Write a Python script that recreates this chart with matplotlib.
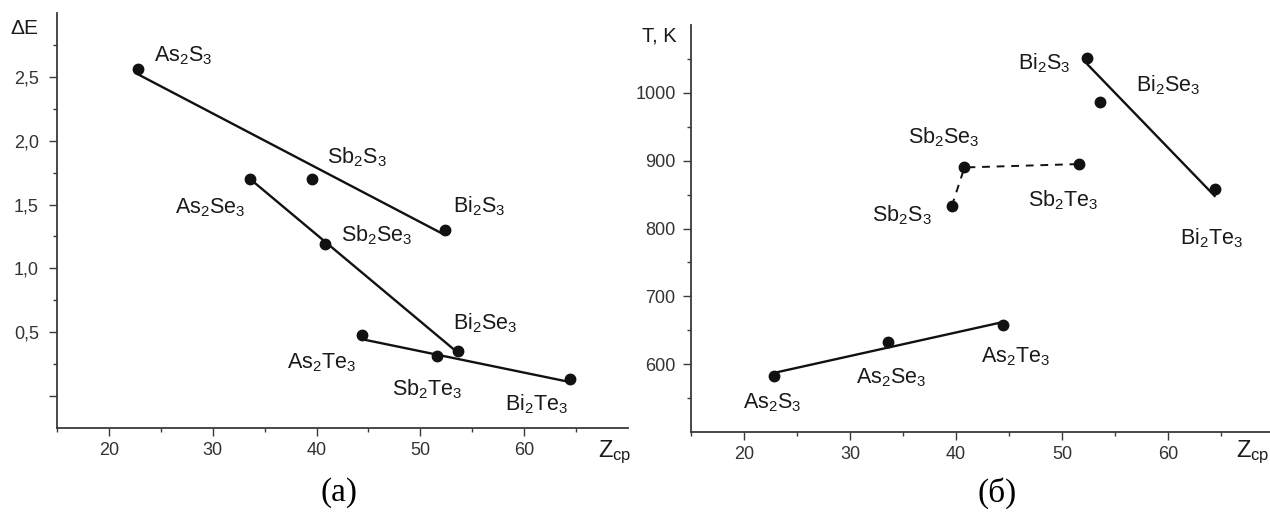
import numpy as np
import matplotlib
matplotlib.use("Agg")
import matplotlib.pyplot as plt

plt.rcParams['font.family'] = ['Liberation Sans', 'DejaVu Sans']
plt.rcParams['mathtext.default'] = 'regular'

# compounds and values
compounds = ['As2S3', 'Sb2S3', 'Bi2S3', 'As2Se3', 'Sb2Se3', 'Bi2Se3', 'As2Te3', 'Sb2Te3', 'Bi2Te3']
z_cp = [22.8, 39.6, 52.4, 33.6, 40.8, 53.6, 44.4, 51.6, 64.4]
delta_e = [2.56, 1.70, 1.30, 1.70, 1.19, 0.35, 0.48, 0.31, 0.13]
t_melt = [583, 833, 1051, 633, 890, 987, 658, 895, 858]

# trend lines (end points)
line_s_z, line_s_e = [22.8, 52.4], [2.52, 1.26]
line_se_z, line_se_e = [33.6, 53.6], [1.70, 0.34]
line_te_z, line_te_e = [44.4, 64.4], [0.445, 0.11]
line_as_z, line_as_t = [22.8, 44.4], [587, 662]
line_bi_z, line_bi_t = [52.4, 64.4], [1042, 848]
line_sb_z, line_sb_t = [39.6, 40.8, 51.6], [833, 890, 895]

# label anchors (left, baseline), data coords
lab_a_x = [24.3, 41.0, 53.1, 26.4, 42.4, 53.1, 37.2, 47.3, 58.2]
lab_a_y = [2.62, 1.82, 1.44, 1.43, 1.21, 0.52, 0.215, 0.008, -0.11]
lab_b_x = [19.9, 32.1, 45.85, 30.6, 35.5, 57.0, 42.4, 46.8, 61.1]
lab_b_y = [535, 810, 1034, 572, 926, 1002, 602, 832, 776]

ytick_a = [0, 0.5, 1.0, 1.5, 2.0, 2.5]
ytick_a_lab = ['', '0,5', '1,0', '1,5', '2,0', '2,5']
ytick_b = [600, 700, 800, 900, 1000]
xtick = [20, 30, 40, 50, 60]


def chem(name):
    out = ''
    for ch in name:
        out += '_' + ch if ch.isdigit() else ch
    return '$' + out + '$'


def style(ax):
    for s in ['top', 'right']:
        ax.spines[s].set_visible(False)
    for s in ['left', 'bottom']:
        ax.spines[s].set_color('#3a3a3a')
        ax.spines[s].set_linewidth(1.3)
    ax.set_xlim(15, 70)
    ax.set_xticks(xtick)
    ax.set_xticks(np.arange(15, 70, 10), minor=True)
    ax.tick_params(which='major', length=6, width=1, color='#3a3a3a', labelsize=13, labelcolor='#333333')
    ax.tick_params(which='minor', length=3, width=1, color='#3a3a3a')
    ax.tick_params(axis='x', pad=4)


fig = plt.figure(figsize=(12.7, 5.13), dpi=100)

ax1 = fig.add_axes([57 / 1270, 85 / 513, 571 / 1270, 415 / 513])
style(ax1)
ax1.set_ylim(-0.25, 3.0)
ax1.set_yticks(ytick_a)
ax1.set_yticklabels(ytick_a_lab)
ax1.set_yticks(np.arange(0.25, 3.0, 0.5), minor=True)
ax1.tick_params(axis='y', pad=7)
for lz, le in [(line_s_z, line_s_e), (line_se_z, line_se_e), (line_te_z, line_te_e)]:
    ax1.plot(lz, le, color='#111111', lw=1.7, solid_capstyle='butt')
ax1.plot(z_cp, delta_e, 'o', color='#111111', ms=7.5)
for i, name in enumerate(compounds):
    ax1.text(lab_a_x[i], lab_a_y[i], chem(name), fontsize=15.5, color='#1a1a1a', va='baseline')

ax2 = fig.add_axes([691 / 1270, 81 / 513, 583 / 1270, 407 / 513])
style(ax2)
ax2.set_ylim(500, 1100)
ax2.set_yticks(ytick_b)
ax2.set_yticks(np.arange(550, 1100, 100), minor=True)
ax2.tick_params(axis='y', pad=5)
ax2.plot(line_as_z, line_as_t, color='#111111', lw=1.7)
ax2.plot(line_bi_z, line_bi_t, color='#111111', lw=1.7)
ax2.plot(line_sb_z, line_sb_t, color='#111111', lw=1.4, linestyle=(0, (4, 3.5)))
ax2.plot(z_cp, t_melt, 'o', color='#111111', ms=7.5)
for i, name in enumerate(compounds):
    ax2.text(lab_b_x[i], lab_b_y[i], chem(name), fontsize=15.5, color='#1a1a1a', va='baseline')

# axis titles
fig.text(10 / 1270, 1 - 28 / 513, r'$\Delta$E', fontsize=15, color='#1a1a1a', va='center')
fig.text(677 / 1270, 1 - 36 / 513, 'T, K', fontsize=14.5, color='#1a1a1a', va='center', ha='right')
fig.text(598 / 1270, 1 - 457 / 513, r'Z$_{cp}$', fontsize=17, color='#1a1a1a', va='baseline')
fig.text(1269 / 1270, 1 - 457 / 513, r'Z$_{cp}$', fontsize=17, color='#1a1a1a', va='baseline', ha='right')

fig.text(339 / 1270, 1 - 493 / 513, '(a)', fontsize=24, family='Liberation Serif', ha='center', va='center')
fig.text(997 / 1270, 1 - 493 / 513, '(б)', fontsize=24, family='Liberation Serif', ha='center', va='center')

fig.savefig('out.png', dpi=100)
